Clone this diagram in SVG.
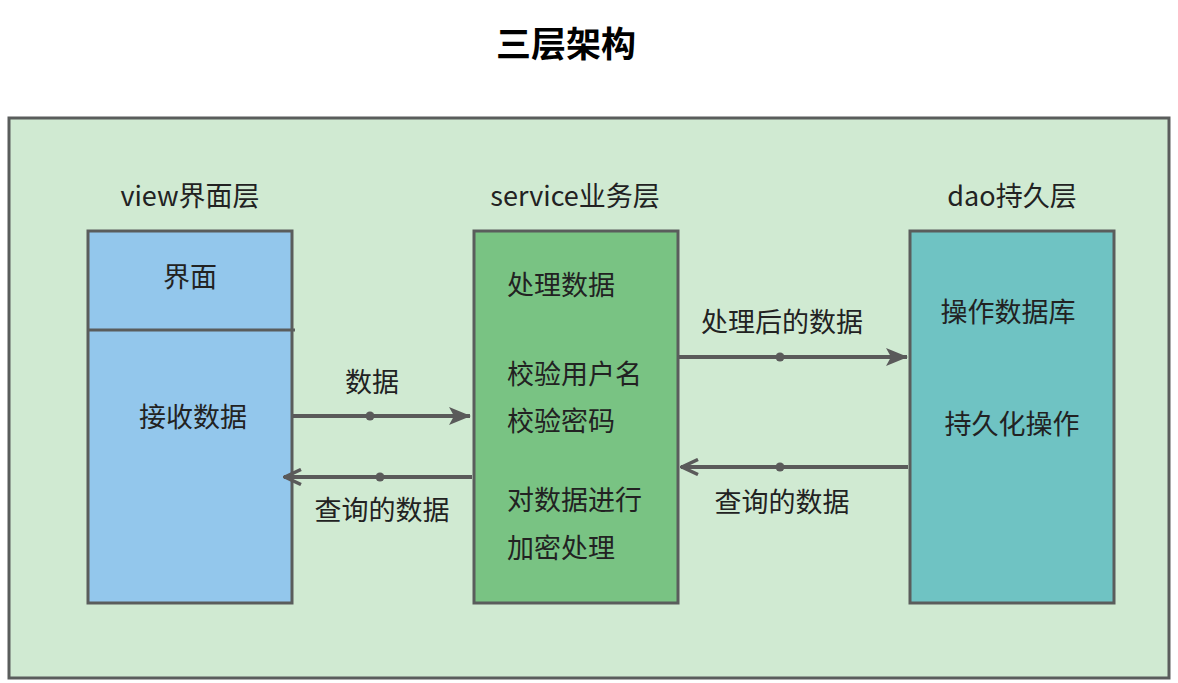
<svg xmlns="http://www.w3.org/2000/svg" width="1178" height="683" viewBox="0 0 1178 683">
<defs>
<style>
text{font-family:"Noto Sans CJK SC","Noto Sans",sans-serif;font-size:27px;fill:#222;}
.t{font-size:35px;font-weight:bold;fill:#000;text-anchor:middle;}
.c{text-anchor:middle;}
.box{stroke:#5a5d5c;stroke-width:3;}
.ln{stroke:#5a5a5a;stroke-width:4;fill:none;}
.dot{fill:#5a5a5a;}
</style>
<marker id="af" viewBox="0 0 22 18" refX="21" refY="9" markerWidth="22" markerHeight="18" markerUnits="userSpaceOnUse" orient="auto">
<path d="M0,0 L22,9 L0,18 L5,9 Z" fill="#5a5a5a"/>
</marker>
<marker id="ao" viewBox="0 0 20 18" refX="19" refY="9" markerWidth="20" markerHeight="18" markerUnits="userSpaceOnUse" orient="auto">
<path d="M2,1.5 L18,9 L2,16.5" fill="none" stroke="#5a5a5a" stroke-width="3.5"/>
</marker>
</defs>
<rect width="1178" height="683" fill="#fff"/>
<text class="t" x="566" y="57">三层架构</text>
<g id="container">
<rect x="9" y="118" width="1160" height="560" fill="#d0ead2" class="box"/>
</g>
<g id="view">
<text class="c" x="190" y="206">view界面层</text>
<rect x="88" y="231" width="204" height="372" fill="#93c7ec" class="box"/>
<line x1="88" y1="330" x2="295" y2="330" class="box"/>
<text class="c" x="190" y="287">界面</text>
<text class="c" x="193" y="427">接收数据</text>
</g>
<g id="service">
<text class="c" x="575" y="206">service业务层</text>
<rect x="474" y="231" width="204" height="372" fill="#79c383" class="box"/>
<text x="507" y="295">处理数据</text>
<text x="507" y="384">校验用户名</text>
<text x="507" y="431">校验密码</text>
<text x="507" y="510">对数据进行</text>
<text x="507" y="558">加密处理</text>
</g>
<g id="dao">
<text class="c" x="1012" y="206">dao持久层</text>
<rect x="910" y="231" width="204" height="372" fill="#6fc3c3" class="box"/>
<text class="c" x="1008" y="322">操作数据库</text>
<text class="c" x="1012" y="434">持久化操作</text>
</g>
<g id="connectors">
<line x1="293" y1="416" x2="470" y2="416" class="ln" marker-end="url(#af)"/>
<circle cx="370" cy="416" r="4.5" class="dot"/>
<text class="c" x="372" y="392">数据</text>
<line x1="472" y1="477" x2="284" y2="477" class="ln" marker-end="url(#ao)"/>
<circle cx="380" cy="477" r="4.5" class="dot"/>
<text class="c" x="382" y="520">查询的数据</text>
<line x1="679" y1="357" x2="907" y2="357" class="ln" marker-end="url(#af)"/>
<circle cx="780" cy="357" r="4.5" class="dot"/>
<text class="c" x="782" y="332">处理后的数据</text>
<line x1="908" y1="467" x2="681" y2="467" class="ln" marker-end="url(#ao)"/>
<circle cx="780" cy="467" r="4.5" class="dot"/>
<text class="c" x="782" y="512">查询的数据</text>
</g>
</svg>
